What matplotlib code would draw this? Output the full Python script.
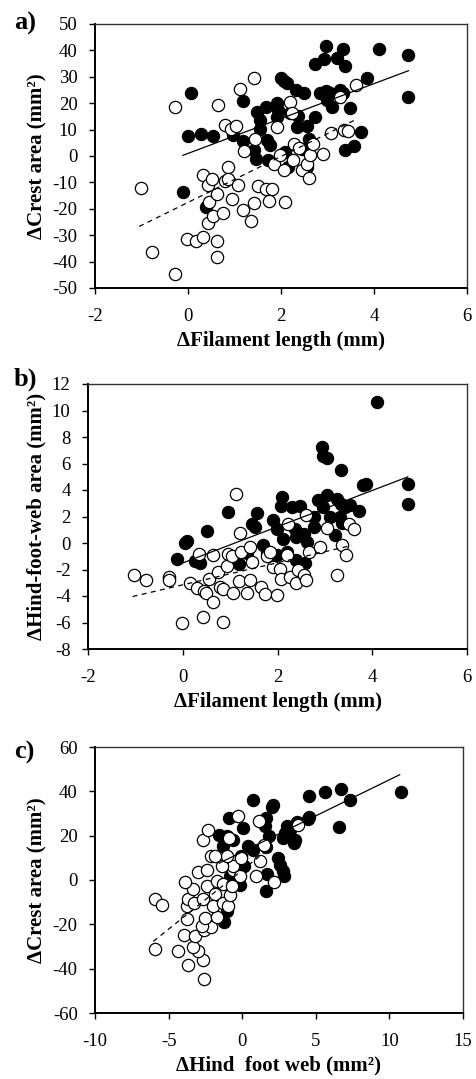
import matplotlib
matplotlib.use("Agg")
import matplotlib.pyplot as plt

# ---------------- Data ----------------
# Panel a: Δ filament length (mm) vs Δ crest area (mm²)
a_fill_x = [0.06, 0.01, 0.29, 0.53, -0.10, 0.39, 1.19, 0.96, 1.18, 1.43, 1.46, 1.48, 1.55, 1.55,
            1.68, 1.69, 1.76, 1.71, 1.92, 1.94, 1.92, 1.99, 2.06, 2.12, 2.09, 2.14, 2.19, 2.32,
            2.49, 2.37, 2.34, 2.55, 2.73, 2.61, 2.45, 2.55, 2.74, 2.92, 2.96, 3.21, 3.33, 3.38,
            2.84, 2.97, 3.05, 3.27, 2.98, 3.09, 3.34, 3.48, 3.38, 3.57, 3.73, 3.84, 4.11, 4.74, 4.74]
a_fill_y = [23.9, 7.6, 8.5, 7.5, -13.7, -19.4, 20.9, 7.8, 5.7, 2.2, -1.0, 16.7, 13.5, 10.4,
            18.4, 6.0, 4.1, -1.4, 19.9, 17.3, 14.8, 29.4, 28.5, 27.5, 1.5, -4.2, 16.1, 24.9,
            23.9, 15.1, 11.0, 11.3, 14.8, 6.6, 2.8, -4.2, 34.8, 36.7, 41.6, 37.0, 40.4, 34.1,
            23.7, 24.7, 23.7, 24.9, 21.1, 18.4, 23.7, 18.0, 2.4, 3.7, 9.1, 29.4, 40.5, 38.2, 22.2]
a_open_x = [-1.02, -0.78, -0.28, -0.28, 0.65, 1.12, 1.43, -0.03, 0.17, 0.33, 0.63, 0.63, 0.44,
            0.54, 0.76, 0.46, 0.63, 0.33, 0.42, 0.51, 0.80, 0.87, 0.87, 0.94, 1.08, 0.80, 0.92,
            1.03, 1.21, 1.19, 1.35, 1.43, 1.44, 1.51, 1.68, 1.80, 1.75, 1.85, 1.91, 1.98, 2.06,
            2.09, 2.19, 2.23, 2.27, 2.25, 2.39, 2.45, 2.55, 2.61, 2.62, 2.68, 2.91, 3.07, 3.27,
            3.35, 3.45, 3.61]
a_open_y = [-12.0, -36.5, -44.7, 18.6, 19.5, 25.2, 29.4, -31.4, -32.3, -30.5, -32.3, -38.4, -25.4,
            -22.9, -21.6, -17.5, -14.3, -7.1, -11.1, -8.6, -9.5, -4.2, -8.6, -16.2, -11.1, 11.6, 10.4,
            11.3, 1.9, -20.6, -24.7, -17.8, 6.6, -11.5, -12.4, -12.4, -17.1, -3.2, 11.0, 0.4, -5.2,
            -17.5, 20.5, 16.1, 4.7, -1.4, 3.2, -5.2, -2.9, -8.4, 0.4, 4.7, 0.6, 8.7, 22.2,
            10.0, 9.5, 26.8]
a_fit_fill_x = [-0.11, 4.74]
a_fit_fill_y = [0.25, 32.3]
a_fit_open_x = [-1.05, 3.61]
a_fit_open_y = [-26.7, 13.8]

# Panel b: Δ filament length (mm) vs Δ hind-foot-web area (mm²)
b_fill_x = [4.10, 2.93, 2.97, 3.05, 3.34, 3.81, 3.87, 4.75, 4.75, 0.96, 0.52, 0.04, 0.08, -0.12,
            0.26, 0.36, 1.19, 1.56, 1.47, 1.52, 1.91, 1.98, 2.09, 2.07, 2.30, 2.47, 2.11, 2.37,
            2.40, 2.62, 2.55, 2.76, 2.86, 2.97, 3.04, 3.25, 3.10, 3.34, 3.43, 3.54, 3.73, 3.32,
            3.36, 3.22, 1.69, 1.77, 1.98, 2.19, 2.40, 2.58, 1.35, 2.76]
b_fill_y = [10.66, 7.26, 6.55, 6.38, 5.54, 4.36, 4.48, 4.48, 2.92, 2.34, 0.90, 0.0, 0.15, -1.19,
            -1.37, -1.52, -1.62, 2.26, 1.41, 1.21, 1.76, 1.08, 3.48, 2.77, 2.72, 2.77, 0.32, 1.08,
            0.45, 0.07, 0.70, 1.21, 3.22, 2.72, 3.60, 3.35, 1.96, 2.97, 2.72, 2.85, 2.42, 1.96,
            1.51, 0.58, -0.18, -0.69, -0.94, -0.69, -1.27, -1.52, -0.76, 1.96]
b_open_x = [-1.03, -0.78, -0.29, -0.29, -0.01, 0.42, 0.85, 0.16, 0.30, 0.45, 0.50, 0.63, 0.55,
            0.75, 0.78, 0.85, 0.94, 1.07, 1.19, 1.35, 1.42, 0.34, 0.64, 0.96, 1.03, 1.21, 1.12,
            1.22, 1.42, 1.47, 1.66, 1.73, 1.78, 1.84, 1.90, 1.98, 2.05, 2.07, 2.19, 2.26, 2.39,
            2.44, 2.56, 2.60, 2.67, 2.23, 2.60, 2.90, 3.05, 3.26, 3.36, 3.45, 3.50, 3.62]
b_open_y = [-2.45, -2.78, -2.58, -2.83, -6.03, -5.60, -5.98, -3.03, -3.38, -3.64, -3.79, -4.47, -2.70,
            -2.20, -3.33, -3.46, -1.77, -3.79, -2.88, -3.79, -2.83, -0.81, -0.94, -0.81, -1.01, 0.75, 3.68,
            -0.69, -0.31, -1.44, -3.33, -3.84, -1.01, -0.69, -1.82, -3.89, -1.95, -2.70, -0.94, -2.55, -3.03,
            -2.02, -2.38, -2.83, -0.69, 1.41, 2.09, -0.31, 1.16, -2.38, -0.18, -0.94, 1.41, 1.03]
b_fit_fill_x = [-0.01, 4.75]
b_fit_fill_y = [-1.52, 4.99]
b_fit_open_x = [-1.06, 3.57]
b_fit_open_y = [-4.04, -0.18]

# Panel c: Δ hind foot web (mm²) vs Δ crest area (mm²)
c_fill_x = [10.81, 7.35, 6.74, 5.61, 4.55, 6.58, 4.55, 4.48, 3.73, 3.57, 3.51, 3.01, 2.90, 2.74,
            3.24, 2.11, 2.00, 1.65, 1.54, 1.83, 1.61, 0.70, 0.07, 0.41, 0.75, 0.11, -0.05, -0.88,
            -1.56, -1.06, -1.29, -0.61, 2.44, 2.56, 2.78, 2.83, 1.70, 1.61, -0.16, -0.84, -1.24, -1.06]
c_fill_y = [39.7, 35.9, 41.1, 39.7, 37.7, 23.9, 28.4, 27.5, 26.0, 18.2, 16.7, 24.2, 21.2, 18.9,
            22.7, 34.0, 32.9, 28.0, 24.2, 19.7, 14.9, 36.2, 23.5, 15.2, 13.7, 6.2, 10.7, 28.0,
            20.5, 19.7, 15.2, 18.2, 9.9, 6.9, 3.9, 1.7, 2.9, -5.1, -2.1, 1.7, -19.1, -14.1]
c_open_x = [-5.93, -5.48, -5.93, -4.34, -3.67, -2.60, -2.65, -2.99, -3.37, -3.96, -3.21, -2.60, -2.15,
            -2.76, -3.73, -2.53, -1.70, -3.78, -3.67, -3.28, -2.69, -3.33, -3.89, -2.99, -2.42, -2.38,
            -1.86, -2.01, -1.33, -0.95, -1.70, -1.29, -0.84, -0.66, -0.61, -0.61, -1.40, -1.02, -2.15,
            -1.86, -2.69, -2.31, -0.88, -0.27, -0.05, -0.16, 0.93, 1.20, 1.47, 1.15, 2.15, 3.80]
c_open_y = [-8.6, -11.1, -31.1, -32.2, -38.2, -44.7, -36.2, -32.2, -30.2, -24.7, -25.4, -22.4, -21.2,
            -20.6, -17.6, -17.1, -16.7, -11.9, -8.6, -10.4, -8.6, -4.1, -1.1, 3.5, 4.4, -2.9,
            -6.2, -11.6, -10.4, -11.9, -0.5, -1.7, -6.6, -2.6, 4.7, 6.2, 6.5, 10.7, 11.0,
            10.7, 18.2, 22.4, 19.0, 29.0, 9.9, 1.7, 1.7, 8.4, 15.9, 26.5, -1.0, 25.0]
c_fit_fill_x = [-1.56, 10.70]
c_fit_fill_y = [7.6, 47.5]
c_fit_open_x = [-6.04, 1.50]
c_fit_open_y = [-27.7, 12.4]

# ---------------- Figure ----------------
plt.rcParams['font.family'] = ['Liberation Serif', 'DejaVu Serif']

fig = plt.figure(figsize=(4.76, 10.79), dpi=100)
W, H = 476.0, 1079.0

def axes_px(l, r, t, b):
    return fig.add_axes([l / W, 1 - b / H, (r - l) / W, (b - t) / H])

ax_a = axes_px(95, 467, 24, 288)
ax_b = axes_px(88, 467, 384, 649)
ax_c = axes_px(95, 463, 747, 1013)

MS = 78
def draw(ax, fx, fy, ox, oy, lfx, lfy, lox, loy):
    ax.scatter(fx, fy, s=MS, facecolor='black', edgecolor='black', linewidths=0.8, zorder=3)
    ax.scatter(ox, oy, s=MS, facecolor='white', edgecolor='black', linewidths=0.9, zorder=4)
    ax.plot(lfx, lfy, color='black', lw=0.9, zorder=5)
    ax.plot(lox, loy, color='black', lw=0.9, ls=(0, (4, 3.5)), zorder=5)

draw(ax_a, a_fill_x, a_fill_y, a_open_x, a_open_y, a_fit_fill_x, a_fit_fill_y, a_fit_open_x, a_fit_open_y)
draw(ax_b, b_fill_x, b_fill_y, b_open_x, b_open_y, b_fit_fill_x, b_fit_fill_y, b_fit_open_x, b_fit_open_y)
draw(ax_c, c_fill_x, c_fill_y, c_open_x, c_open_y, c_fit_fill_x, c_fit_fill_y, c_fit_open_x, c_fit_open_y)

def style(ax, xlim, xt, ylim, yt, xlabel, ylabel):
    ax.set_xlim(*xlim)
    ax.set_ylim(*ylim)
    ax.set_xticks(xt)
    ax.set_yticks(yt)
    ax.set_xticklabels([str(v) for v in xt])
    ax.set_yticklabels([str(v) for v in yt])
    ax.tick_params(direction='out', length=4.5, width=1, labelsize=13.5, colors='black')
    ax.tick_params(axis='x', pad=10)
    ax.tick_params(axis='y', pad=8)
    for s in ['left', 'bottom']:
        ax.spines[s].set_linewidth(1.4)
        ax.spines[s].set_color('black')
    for s in ['top', 'right']:
        ax.spines[s].set_linewidth(1.0)
        ax.spines[s].set_color('#333333')
    ax.set_xlabel(xlabel, fontsize=15, fontweight='bold', labelpad=4)
    ax.set_ylabel(ylabel, fontsize=15, fontweight='bold', labelpad=4)

style(ax_a, (-2, 6), [-2, 0, 2, 4, 6], (-50, 50), list(range(-50, 51, 10)),
      '\u0394Filament length (mm)', '\u0394Crest area (mm\u00b2)')
style(ax_b, (-2, 6), [-2, 0, 2, 4, 6], (-8, 12), list(range(-8, 13, 2)),
      '\u0394Filament length (mm)', '\u0394Hind-foot-web area (mm\u00b2)')
style(ax_c, (-10, 15), [-10, -5, 0, 5, 10, 15], (-60, 60), list(range(-60, 61, 20)),
      '\u0394Hind  foot web (mm\u00b2)', '\u0394Crest area (mm\u00b2)')

fig.text(25 / W, 1 - 23 / H, 'a)', fontsize=19, fontweight='bold', ha='center', va='center')
fig.text(25 / W, 1 - 379 / H, 'b)', fontsize=19, fontweight='bold', ha='center', va='center')
fig.text(24 / W, 1 - 752 / H, 'c)', fontsize=19, fontweight='bold', ha='center', va='center')

fig.savefig('out.png', dpi=100)
